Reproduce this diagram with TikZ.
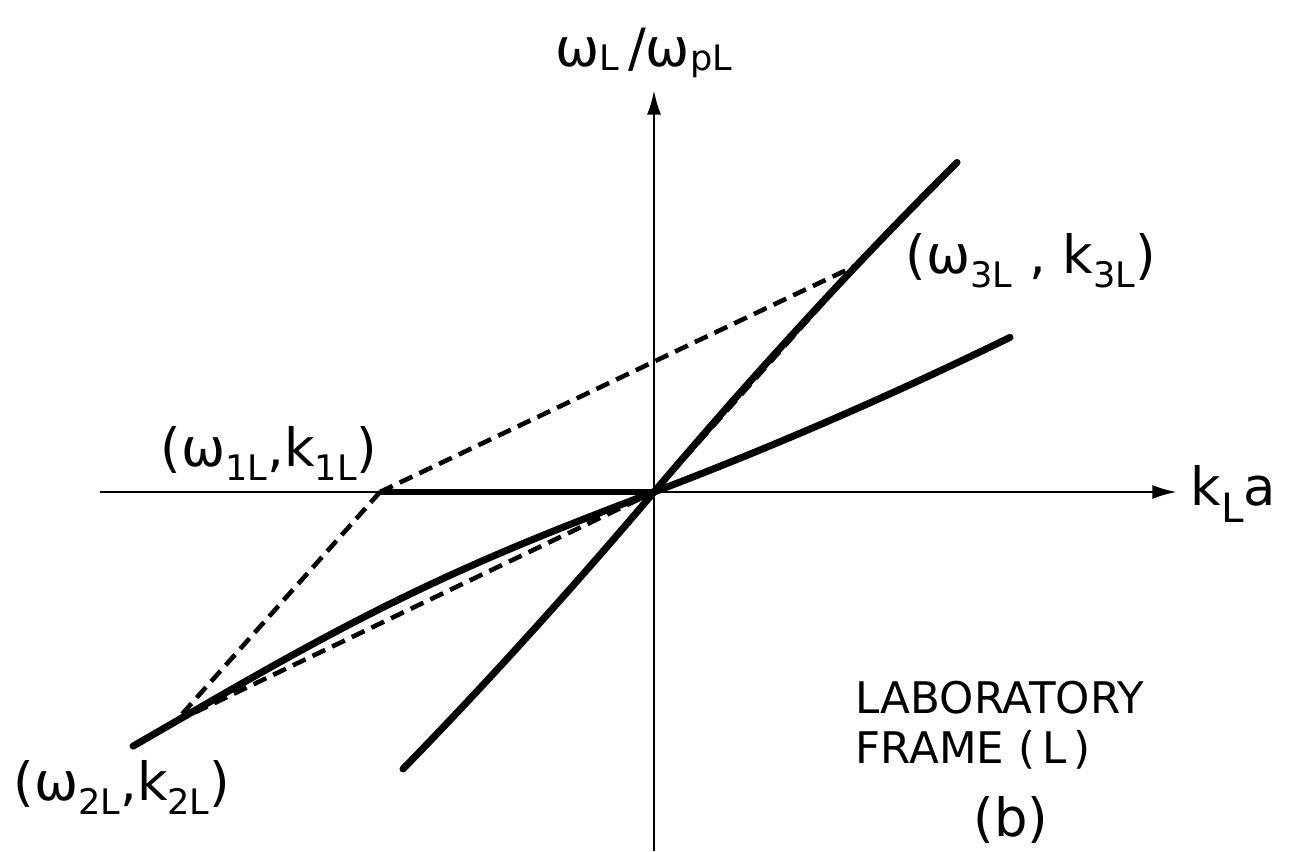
\documentclass[tikz,border=0pt]{standalone}
\usepackage{fontspec}
\setmainfont{DejaVu Sans}
\usetikzlibrary{arrows.meta, positioning}
\newcommand{\lsub}[2][4pt]{\raisebox{-#1}{\fontsize{10}{12}\selectfont #2}}

\begin{document}
\begin{tikzpicture}[
        x=0.1mm, y=-0.1mm,
        axis/.style={line width=0.8pt, -{Latex[length=7pt, width=4pt]}},
        curve/.style={line width=2pt, line cap=round},
        chord/.style={line width=1.3pt, dash pattern=on 4pt off 2.2pt},
        lbl/.style={inner sep=0pt, font=\fontsize{15}{18}\selectfont, anchor=base west},
        txt/.style={inner sep=0pt, font=\fontsize{12.4}{15}\selectfont, anchor=base west}
    ]
    \useasboundingbox (0,0) rectangle (1290,851);

    % Axes
    \coordinate (xl) at (100,492);
    \coordinate (xr) at (1177,492);
    \coordinate (yb) at (654,851);
    \coordinate (yt) at (654,90);
    \draw[axis] (xl) -- (xr);
    \draw[axis] (yb) -- (yt);
    \node[lbl] (kla) at (1190,505) {k\lsub[5pt]{\fontsize{11.5}{12}\selectfont L}a};
    \node[lbl] (wlab) at (555,67) {ω\lsub[1pt]{L}\,/ω\lsub[1pt]{pL}};

    % Dispersion curves (origin at the crossing of the axes)
    \begin{scope}[shift={(654,492)}, x=0.1mm, y=0.1mm]
    \coordinate (O) at (0,0);
    \coordinate (w1) at (-274,0);
    \coordinate (w2) at (-479,-230);
    \coordinate (w3) at (203,227);
    \draw[curve] plot[domain=-521:0, samples=60] (\x, {0.48*(\x) + 15*sin(-0.3758*(\x))})
        -- plot[domain=0:356, samples=40] (\x, {0.38*(\x) + 0.000148*(\x)*(\x)});
    \draw[curve] plot[domain=-251:0, samples=40] (\x, {1.18*(\x) + 0.0003*(\x)*(\x)})
        -- plot[domain=0:303, samples=40] (\x, {1.18*(\x) - 0.0003*(\x)*(\x)});
    \draw[line width=1.8pt] (w1) -- (O);

    % Dashed chords
    \draw[chord] (w1) -- (w3);
    \draw[chord] (w1) -- (w2);
    \draw[chord] (w2) -- (O);
    \draw[chord] (O) -- (w3);
    \end{scope}

    % Labels
    \node[lbl] (l3) at (905,273) {(ω\lsub{3L} , k\lsub{3L})};
    \node[lbl] (l1) at (160,466) {(ω\lsub{1L},k\lsub{1L})};
    \node[lbl] (l2) at (13,800) {(ω\lsub{2L},k\lsub{2L})};
    \node[txt] (lab) at (855,713) {LABORATORY};
    \node[txt] (frm) at (855,763) {FRAME (\,L\,)};
    \node[lbl, anchor=base] (fig) at (1011,836) {(b)};

\end{tikzpicture}
\end{document}
